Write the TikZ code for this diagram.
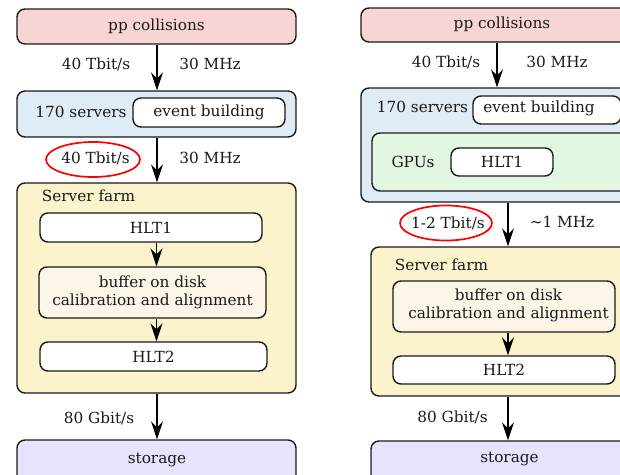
\documentclass[tikz,border=0pt]{standalone}
\usepackage{fontspec}
\setmainfont{DejaVu Serif}
\usetikzlibrary{arrows.meta,shapes.geometric}

\definecolor{ppfill}{HTML}{F8D5D5}
\definecolor{evfill}{HTML}{DFEBF5}
\definecolor{gpufill}{HTML}{E2F7E2}
\definecolor{farmfill}{HTML}{FAF3CC}
\definecolor{buffill}{HTML}{FDF5E8}
\definecolor{storefill}{HTML}{E6E4FC}
\definecolor{inkcol}{HTML}{1A1A1A}

\tikzset{
  box/.style={draw=inkcol, line width=1.4pt, rounded corners=8pt, inner sep=0pt,
              font=\fontsize{15.3}{18.2}\selectfont, align=center, text=inkcol},
  lbl/.style={inner sep=0pt, font=\fontsize{15.3}{18.2}\selectfont, text=inkcol},
  flow/.style={draw=black, line width=1.2pt,
               -{Stealth[length=18pt, width=12pt, inset=6pt]}},
  ringmark/.style={draw=red, line width=1.7pt, ellipse, inner sep=0pt}
}

\begin{document}
\begin{tikzpicture}[x=1pt, y=-1pt]
\useasboundingbox (0,0) rectangle (620,474);
\clip (0,0) rectangle (620,474);

% ---------------- left chain ----------------
\node[box, fill=ppfill, minimum width=279pt, minimum height=35pt] (ppL) at (156.5,26.5) {pp collisions};
\node[lbl] at (96,64) {40 Tbit/s};
\node[lbl] at (210,64) {30 MHz};

\node[box, fill=evfill, minimum width=279pt, minimum height=46pt] (ebL) at (156.5,114) {};
\node[lbl] at (81,112) {170 servers};
\node[box, fill=white, minimum width=152pt, minimum height=29pt] (ebinL) at (209,112.5) {event building};

\node[ringmark, minimum width=94pt, minimum height=35pt] (ovL) at (93,159.5) {};
\node[lbl] at (95.5,158) {40 Tbit/s};
\node[lbl] at (210,158) {30 MHz};

\node[box, fill=farmfill, minimum width=279pt, minimum height=210pt] (farmL) at (156.5,288) {};
\node[lbl] at (88.5,196) {Server farm};
\node[box, fill=white, minimum width=222pt, minimum height=29pt] (hltaL) at (151,227.5) {HLT1};
\node[box, fill=buffill, minimum width=227pt, minimum height=51pt] (bufL) at (152.5,292.5)
  {buffer on disk\\calibration and alignment};
\node[box, fill=white, minimum width=227pt, minimum height=29pt] (hltbL) at (153.5,356.5) {HLT2};

\node[lbl] at (99,418) {80 Gbit/s};
\node[box, fill=storefill, minimum width=279pt, minimum height=50pt] (stL) at (156.5,465) {};
\node[lbl] at (157,460) {storage};

\draw[flow] ([xshift=0.5pt]ppL.south) -- ([xshift=0.5pt]ebL.north);
\draw[flow] ([xshift=0.5pt]ebL.south) -- ([xshift=0.5pt]farmL.north);
\draw[flow] (hltaL.south -| farmL.north) -- (bufL.north -| farmL.north);
\draw[flow] (bufL.south -| farmL.north) -- (hltbL.north -| farmL.north);
\draw[flow] ([xshift=0.5pt]farmL.south) -- ([xshift=0.5pt]stL.north);

% ---------------- right chain ----------------
\node[box, fill=ppfill, minimum width=279pt, minimum height=34pt] (ppR) at (500.5,25) {};
\node[lbl] at (502,24) {pp collisions};
\node[lbl] at (446,62) {40 Tbit/s};
\node[lbl] at (557,62) {30 MHz};

\node[box, fill=evfill, minimum width=279pt, minimum height=114pt] (ebR) at (500.5,145) {};
\node[lbl] at (422.5,107) {170 servers};
\node[box, fill=white, minimum width=148pt, minimum height=28pt] (ebinR) at (547,110) {};
\node[lbl] at (539,108) {event building};
\node[box, fill=gpufill, minimum width=279pt, minimum height=58pt] (gpuR) at (511.5,162) {};
\node[lbl] at (413,162) {GPUs};
\node[box, fill=white, minimum width=102pt, minimum height=28pt] (hltaR) at (502,162) {HLT1};

\node[ringmark, minimum width=92pt, minimum height=35pt] (ovR) at (446,223) {};
\node[lbl] at (448,223) {1-2 Tbit/s};
\node[lbl] at (562,222) {\char"007E 1 MHz};

\node[box, fill=farmfill, minimum width=279pt, minimum height=149pt] (farmR) at (510.5,321.5) {};
\node[lbl] at (441.5,265) {Server farm};
\node[box, fill=buffill, minimum width=222pt, minimum height=51pt] (bufR) at (504,306.5) {};
\node[lbl, align=center] at (508.5,305) {buffer on disk\\calibration and alignment};
\node[box, fill=white, minimum width=222pt, minimum height=28pt] (hltbR) at (504,370) {HLT2};

\node[lbl] at (452.5,417) {80 Gbit/s};
\node[box, fill=storefill, minimum width=279pt, minimum height=50pt] (stR) at (510.5,466) {};
\node[lbl] at (509.5,459) {storage};

\draw[flow] ([xshift=-3.5pt]ppR.south) -- ([xshift=-3.5pt]ebR.north);
\draw[flow] ([xshift=7.5pt]ebR.south) -- ([xshift=-2.5pt]farmR.north);
\draw[flow] ([xshift=4pt]bufR.south) -- ([xshift=4pt]hltbR.north);
\draw[flow] ([xshift=-2.5pt]farmR.south) -- ([xshift=-2.5pt]stR.north);
\end{tikzpicture}
\end{document}
